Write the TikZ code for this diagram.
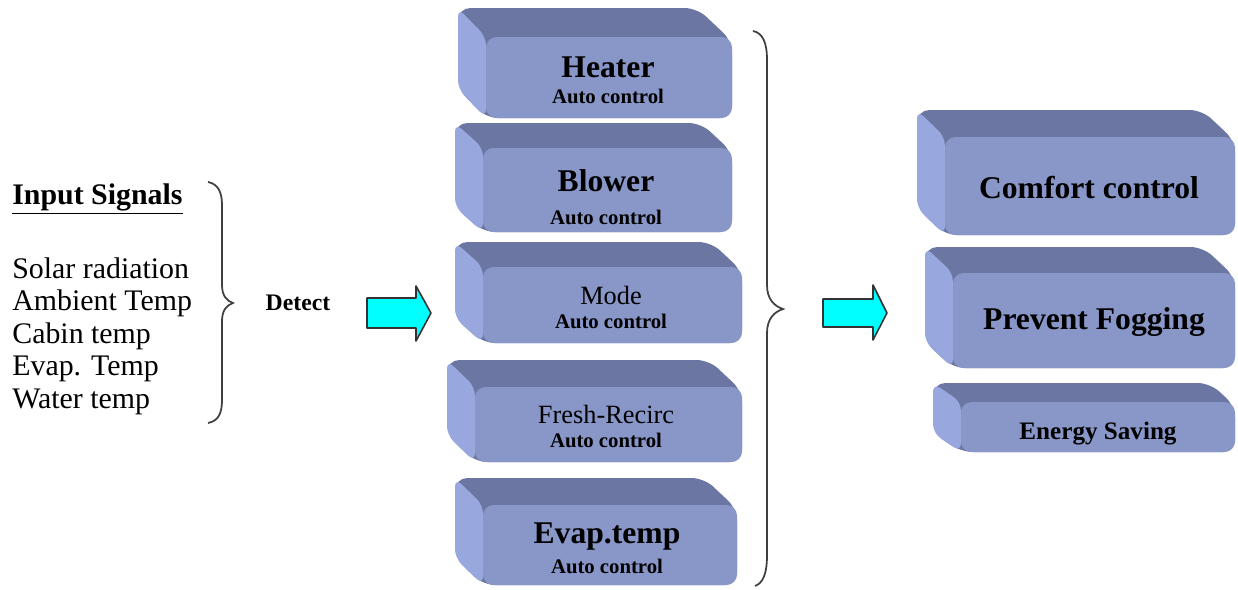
\documentclass[tikz,border=0pt]{standalone}
\usepackage{fontspec}
\setmainfont{Liberation Serif}
\usetikzlibrary{
    fit,
    calc
}
\definecolor{boxtop}{RGB}{108,118,162}
\definecolor{boxside}{RGB}{152,168,222}
\definecolor{boxfront}{RGB}{136,150,200}
\definecolor{arrowcyan}{RGB}{0,255,255}
\newcommand{\titlefont}{\fontsize{18}{20}\selectfont\bfseries}
\newcommand{\plainfont}{\fontsize{15}{17}\selectfont}
\newcommand{\subfont}{\fontsize{11.8}{13}\selectfont\bfseries}
\newcommand{\signalfont}{\fontsize{17}{19}\selectfont}
\tikzset{
    % Box faces
    box top/.style={fill=boxtop, rounded corners=7pt},
    box side/.style={fill=boxside, rounded corners=5pt},
    box front/.style={fill=boxfront, rounded corners=6pt, inner sep=0pt},
    %
    % Box texts
    box title/.style={font=\titlefont, inner sep=0pt},
    box plain/.style={font=\plainfont, inner sep=0pt},
    box sub/.style={font=\subfont, inner sep=0pt},
    %
    % Arrows and braces
    block arrow/.style={fill=arrowcyan, draw=black!80, line width=0.9pt, line join=round},
    brace line/.style={draw=black!75, line width=1pt},
    %
    % Texts
    signal/.style={anchor=base west, font=\signalfont, inner sep=0pt}
}
% name, back left, back top, right, bottom, depth
\newcommand{\bevelbox}[6]{%
    \fill[box top] (#2,#3) -- (#4-#6-6,#3) -- (#4,#3+#6+4) -- (#4,#5) -- (#2+28,#5) -- (#2,#5-#6) -- cycle;
    \fill[box side] (#2,#3) -- (#2+28,#3+#6) -- (#2+28,#5) -- (#2,#5-#6) -- cycle;
    \coordinate (#1 nw) at (#2+28,#3+#6);
    \coordinate (#1 se) at (#4,#5);
    \node[box front, fit={(#1 nw) (#1 se)}] (#1) {};
}

\begin{document}
\begin{tikzpicture}[x=0.02cm, y=-0.02cm]
    \useasboundingbox[fill=white] (0,0) rectangle (1238,589);

    % Input signals
    \node[signal] (inputhead) at (12,204) {\underline{\textbf{Input Signals}}};
    \foreach \sig [count=\i from 0] in {Solar radiation, Ambient Temp, Cabin temp, Evap. Temp, Water temp}
        \node[signal] (sig\i) at (12,278+32.5*\i) {\sig};
    \draw[brace line] (208,182) .. controls (218,184) and (222,192) .. (222,205) -- (222,285)
        .. controls (222,296) and (227,301) .. (233,303) .. controls (227,305) and (222,310) .. (222,321)
        -- (222,400) .. controls (222,414) and (218,421) .. (208,423);
    \node[font=\fontsize{13.5}{15}\selectfont\bfseries] (detect) at (298,303) {Detect};
    \draw[block arrow] (367,298) -- (416,298) -- (416,286) -- (431,313) -- (416,341) -- (416,328) -- (367,328) -- cycle;

    % Auto controls
    \bevelbox{heater}{458}{8}{732}{118}{29}
    \bevelbox{blower}{455}{123}{732}{232}{25}
    \bevelbox{mode}{455}{242}{742}{343}{25}
    \bevelbox{fresh}{447}{360}{742}{462}{27}
    \bevelbox{evap}{455}{478}{737}{585}{27}
    \node[box title] (heater title) at (608,67) {Heater};
    \node[box sub] (heater sub) at (608,96) {Auto control};
    \node[box title] (blower title) at (606,181) {Blower};
    \node[box sub] (blower sub) at (606,217) {Auto control};
    \node[box plain] (mode title) at (611,295) {Mode};
    \node[box sub] (mode sub) at (611,321) {Auto control};
    \node[box plain] (fresh title) at (606,414) {Fresh-Recirc};
    \node[box sub] (fresh sub) at (606,440) {Auto control};
    \node[box title] (evap title) at (607,537) {Evap.temp};
    \node[box sub] (evap sub) at (607,566) {Auto control};

    \draw[brace line] (753,31) .. controls (763,33) and (767,43) .. (767,60) -- (767,285)
        .. controls (767,299) and (774,306) .. (783,309) .. controls (774,312) and (767,319) .. (767,333)
        -- (767,555) .. controls (767,574) and (763,583) .. (755,586);
    \draw[block arrow] (823,299) -- (873,299) -- (873,285) -- (887,313) -- (873,340) -- (873,327) -- (823,327) -- cycle;

    % Results
    \bevelbox{comfort}{917}{110}{1235}{235}{27}
    \bevelbox{fogging}{925}{247}{1235}{368}{26}
    \bevelbox{energy}{933}{383}{1235}{452}{19}
    \node[box title] (comfort title) at (1089,188) {Comfort control};
    \node[box title] (fogging title) at (1094,322) {Prevent Fogging};
    \node[box title, font=\fontsize{14.3}{16}\selectfont\bfseries] (energy title) at (1098,434) {Energy Saving};
\end{tikzpicture}
\end{document}
